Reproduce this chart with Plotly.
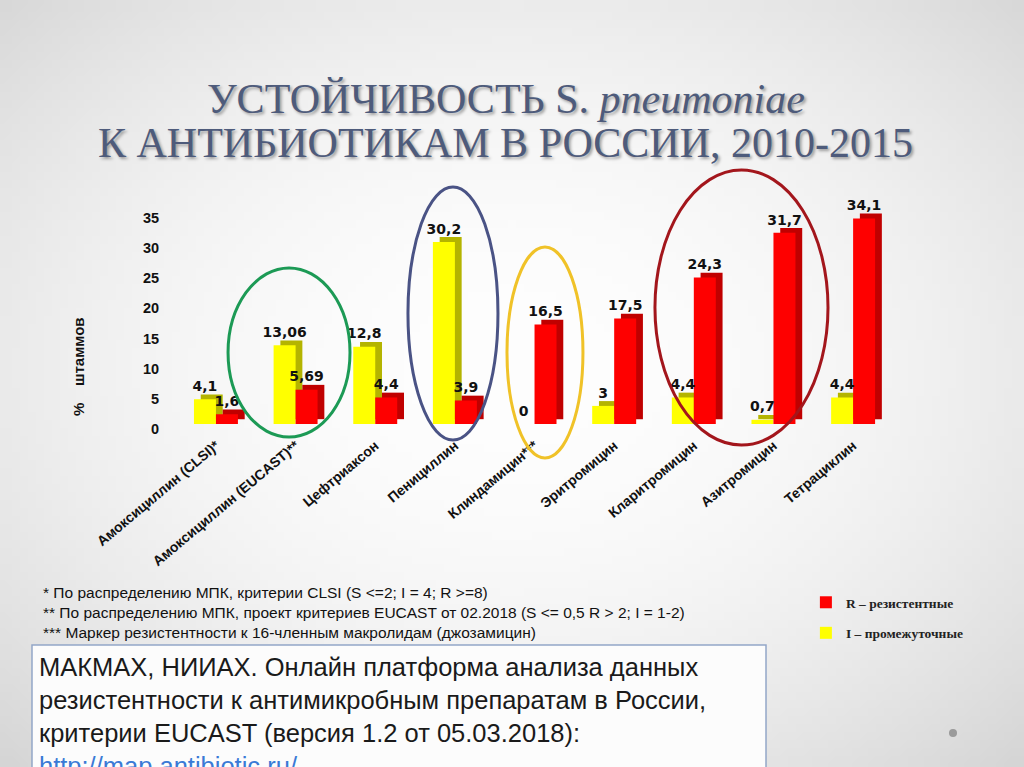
import base64
import struct
import zlib

import numpy as np
import plotly.graph_objects as go

# ---------------- data ----------------
categories = [
    "Амоксициллин (CLSI)*",
    "Амоксициллин (EUCAST)**",
    "Цефтриаксон",
    "Пенициллин",
    "Клиндамицин***",
    "Эритромицин",
    "Кларитромицин",
    "Азитромицин",
    "Тетрациклин",
]
intermediate = [4.1, 13.06, 12.8, 30.2, 0, 3, 4.4, 0.7, 4.4]      # I – промежуточные (yellow)
resistant = [1.6, 5.69, 4.4, 3.9, 16.5, 17.5, 24.3, 31.7, 34.1]   # R – резистентные (red)
y_ticks = [0, 5, 10, 15, 20, 25, 30, 35]

title_line1 = "УСТОЙЧИВОСТЬ S. <i>pneumoniae</i>"
title_line2 = "К АНТИБИОТИКАМ В РОССИИ, 2010-2015"
footnotes = [
    "* По распределению МПК, критерии CLSI (S <=2; I = 4; R >=8)",
    "** По распределению МПК, проект критериев EUCAST от 02.2018 (S <= 0,5 R > 2; I = 1-2)",
    "*** Маркер резистентности к 16-членным макролидам (джозамицин)",
]
source_lines = [
    "МАКМАХ, НИИАХ. Онлайн платформа анализа данных",
    "резистентности к антимикробным препаратам в России,",
    "критерии EUCAST (версия 1.2 от 05.03.2018):",
]
source_link = "http://map.antibiotic.ru/"


def fmt(v):
    return f"{v:g}".replace(".", ",")


# ---------------- style ----------------
W = 0.276      # bar width (x units)
DX = 0.085     # 3D depth, x
DY = 0.8       # 3D depth, y
idx = list(range(len(categories)))

YELLOW, YELLOW_SIDE = "#ffff00", "#b4b400"
RED, RED_SIDE = "#fe0000", "#c00000"


# background vignette (decorative) as a tiny PNG
def make_bg(w=128, h=96):
    xs = (np.arange(w) / (w - 1) - 0.5) / 0.62
    ys = (np.arange(h) / (h - 1) - 0.48) / 0.62
    r2 = xs[None, :] ** 2 + ys[:, None] ** 2
    v = np.clip(254 - 30 * r2, 200, 255).astype(np.uint8)
    raw = b"".join(b"\x00" + v[i].tobytes() for i in range(h))

    def chunk(t, d):
        c = struct.pack(">I", len(d)) + t + d
        return c + struct.pack(">I", zlib.crc32(t + d) & 0xFFFFFFFF)

    png = b"\x89PNG\r\n\x1a\n" + chunk(b"IHDR", struct.pack(">IIBBBBB", w, h, 8, 0, 0, 0, 0))
    png += chunk(b"IDAT", zlib.compress(raw, 9)) + chunk(b"IEND", b"")
    return "data:image/png;base64," + base64.b64encode(png).decode()


fig = go.Figure()

# yellow back/side face
fig.add_trace(go.Bar(
    x=idx, y=intermediate, base=DY, width=W, offset=-W + DX,
    marker=dict(color=YELLOW_SIDE, line=dict(width=0)),
    showlegend=False, hoverinfo="skip",
))
# yellow front
fig.add_trace(go.Bar(
    x=idx, y=intermediate, width=W, offset=-W, name="I – промежуточные",
    marker=dict(color=YELLOW, line=dict(width=0)), legendrank=2, legendgroup="i",
))
# red back/side face
fig.add_trace(go.Bar(
    x=idx, y=resistant, base=DY, width=W, offset=DX,
    marker=dict(color=RED_SIDE, line=dict(width=0)),
    showlegend=False, hoverinfo="skip",
))
# red front
fig.add_trace(go.Bar(
    x=idx, y=resistant, width=W, offset=0, name="R – резистентные",
    marker=dict(color=RED, line=dict(width=0)), legendrank=1, legendgroup="r",
))

label_font = dict(family="DejaVu Sans", size=14, color="#111111", weight="bold")
fig.add_trace(go.Scatter(
    x=[i - W / 2 for i in idx], y=[v + DY for v in intermediate],
    text=[fmt(v) for v in intermediate], mode="text", textposition="top center",
    textfont=label_font, showlegend=False, cliponaxis=False, hoverinfo="skip",
))
fig.add_trace(go.Scatter(
    x=[i + W / 2 for i in idx], y=[v + DY for v in resistant],
    text=[fmt(v) for v in resistant], mode="text", textposition="top center",
    textfont=label_font, showlegend=False, cliponaxis=False, hoverinfo="skip",
))

# highlight ellipses (paper coords)
ellipses = [
    (0.2227, 0.4302, 0.3418, 0.6506, "#1c9a55"),
    (0.3984, 0.4263, 0.4863, 0.7562, "#4a5385"),
    (0.4951, 0.4029, 0.5693, 0.6780, "#f0c228"),
    (0.6396, 0.4198, 0.8086, 0.7784, "#a3161c"),
]
shapes = []
for x0, y0, x1, y1, c in ellipses:
    shapes.append(dict(type="circle", xref="paper", yref="paper", x0=x0, y0=y0, x1=x1, y1=y1,
                       line=dict(color=c, width=3), layer="above"))
# source box
shapes.append(dict(type="rect", xref="paper", yref="paper", x0=32 / 1024, x1=766 / 1024,
                   y0=-0.05, y1=1 - 645 / 767, line=dict(color="#93a6c8", width=1.5),
                   fillcolor="#fcfcfc", layer="below"))
# slide navigation dot
shapes.append(dict(type="circle", xref="paper", yref="paper", x0=949 / 1024, x1=957 / 1024,
                   y0=1 - 737 / 767, y1=1 - 729 / 767, line=dict(width=0), fillcolor="#9a9a9a"))

title_font = dict(family="Liberation Serif", size=42, color="#4e5b7b",
                  shadow="2px 2px 3px rgba(0,0,0,0.35)")

annotations = [
    dict(text=title_line2, xref="paper", yref="paper", x=0.494, y=1 - 143 / 767,
         xanchor="center", yanchor="middle", showarrow=False, font=title_font),
    dict(text="%\u00a0\u00a0\u00a0\u00a0штаммов", xref="paper", yref="paper", x=78 / 1024,
         y=1 - 367 / 767, textangle=-90, xanchor="center", yanchor="middle", showarrow=False,
         font=dict(family="Liberation Sans", size=15, color="#111111", weight="bold")),
    dict(text="<br>".join(footnotes), xref="paper", yref="paper", x=41 / 1024, y=1 - 582 / 767,
         xanchor="left", yanchor="top", align="left", showarrow=False,
         font=dict(family="Liberation Sans", size=15.5, color="#111111")),
    dict(text="<br>".join(source_lines) + f'<br><a href="{source_link}" style="color:#3a7ad6">{source_link}</a>',
         xref="paper", yref="paper", x=37 / 1024, y=1 - 651 / 767,
         xanchor="left", yanchor="top", align="left", showarrow=False,
         font=dict(family="Liberation Sans", size=25.5, color="#1a1a1a")),
]

fig.update_layout(
    width=1024, height=767,
    margin=dict(l=0, r=0, t=0, b=0),
    paper_bgcolor="#f3f3f3",
    plot_bgcolor="rgba(0,0,0,0)",
    barmode="overlay",
    title=dict(text=title_line1, x=0.494, xanchor="center", y=1 - 98 / 767, yanchor="middle",
               font=title_font),
    xaxis=dict(domain=[0.172, 0.872], range=[-0.5, 8.5], tickmode="array", tickvals=idx,
               ticktext=categories, tickangle=-40, showgrid=False, zeroline=False,
               showline=False, ticks="", automargin=False, fixedrange=True,
               ticklabelstandoff=10,
               tickfont=dict(family="Liberation Sans", size=14, color="#111111", weight="bold")),
    yaxis=dict(domain=[0.4472, 0.7302], range=[0, 36], tickmode="array", tickvals=y_ticks,
               showgrid=False, zeroline=False, showline=False, ticks="", automargin=False,
               ticklabelstandoff=16, ticklabelshift=5, fixedrange=True,
               tickfont=dict(family="Liberation Sans", size=14.5, color="#111111", weight="bold")),
    legend=dict(x=0.787, y=1 - 587 / 767, xanchor="left", yanchor="top", bgcolor="rgba(0,0,0,0)",
                tracegroupgap=10,
                font=dict(family="Liberation Serif", size=13.5, color="#222222", weight="bold")),
    shapes=shapes,
    annotations=annotations,
    images=[dict(source=make_bg(), xref="paper", yref="paper", x=0, y=1, sizex=1, sizey=1,
                 xanchor="left", yanchor="top", sizing="stretch", layer="below")],
)

fig.write_html("out.html", config={"displayModeBar": False},
               post_script="document.body.style.margin='0';document.body.style.overflow='hidden';")
